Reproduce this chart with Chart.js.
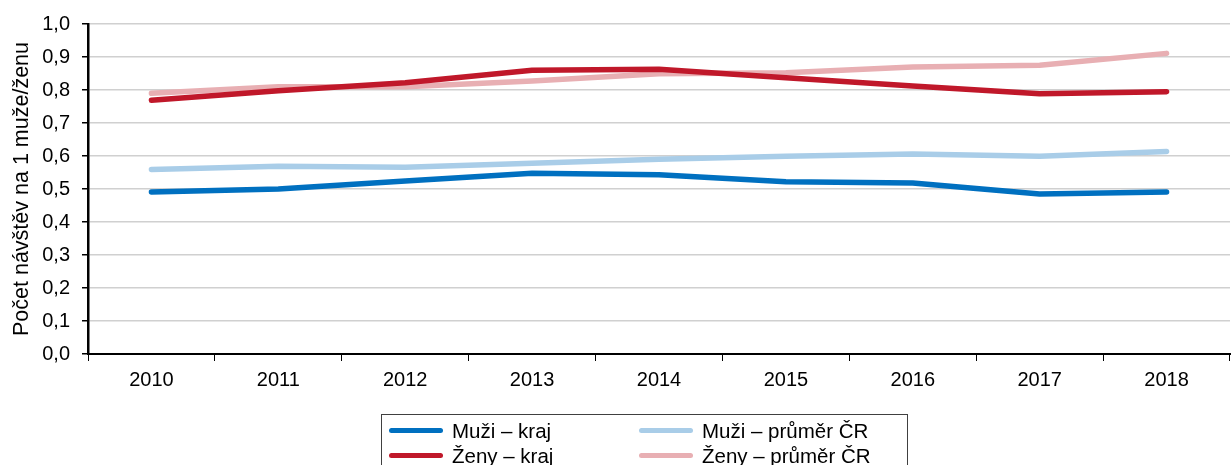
<!DOCTYPE html>
<html><head><meta charset="utf-8">
<script src="https://cdn.jsdelivr.net/npm/chart.js@4/dist/chart.umd.min.js"></script>
<style>
html,body{margin:0;padding:0;background:#fff;}
#wrap{position:relative;width:1231px;height:465px;overflow:hidden;font-family:"Liberation Sans",Arial,sans-serif;}
#c{position:absolute;left:0;top:0;}
#legend{position:absolute;left:381px;top:414px;width:527px;height:62px;border:1px solid #404040;box-sizing:border-box;}
.li{position:absolute;height:25px;line-height:25px;font-size:20.5px;color:#000;white-space:nowrap;}
.li span.sw{position:absolute;left:0;top:10px;width:54px;height:5px;border-radius:3px;}
.li span.t{position:absolute;left:63px;top:0;}
</style></head>
<body><div id="wrap"><canvas id="c" width="1231" height="465"></canvas><div id="legend"></div></div>
<script>
const categories = ['2010','2011','2012','2013','2014','2015','2016','2017','2018'];
const muziKraj   = [0.491, 0.500, 0.524, 0.548, 0.543, 0.522, 0.518, 0.485, 0.491];
const muziCR     = [0.559, 0.569, 0.566, 0.578, 0.590, 0.599, 0.606, 0.599, 0.614];
const zenyKraj   = [0.769, 0.798, 0.822, 0.860, 0.863, 0.837, 0.812, 0.789, 0.795];
const zenyCR     = [0.790, 0.810, 0.810, 0.827, 0.849, 0.852, 0.870, 0.875, 0.911];
const seriesNames = ['Muži – kraj','Muži – průměr ČR','Ženy – kraj','Ženy – průměr ČR'];
const seriesColors = ['#0070C0','#A9CDE8','#C0182A','#E8AFB3'];
const yTitle = 'Počet návštěv na 1 muže/ženu';

const values = [muziKraj, muziCR, zenyKraj, zenyCR];
const drawOrder = [1,3,0,2];
const datasets = values.map((v,i)=>({
  label: seriesNames[i], data: v, borderColor: seriesColors[i], backgroundColor: seriesColors[i],
  borderWidth: 5.5, pointRadius: 0, tension: 0, borderCapStyle: 'round', borderJoinStyle: 'round',
  order: drawOrder[i]
}));

const font = {family: '"Liberation Sans", Arial, sans-serif', size: 20};
new Chart(document.getElementById('c'), {
  type: 'line',
  data: {labels: categories, datasets},
  options: {
    responsive: false, animation: false,
    layout: {padding: {left: 9, right: 1, top: 22, bottom: 0}},
    plugins: {legend: {display: false}, tooltip: {enabled: false}},
    scales: {
      x: {
        offset: true,
        grid: {offset: true, drawOnChartArea: false, color: '#000', tickColor: '#000', tickLength: 7, lineWidth: 1},
        border: {color: '#000', width: 2},
        ticks: {font, color: '#000', padding: 7, maxRotation: 0},
        afterFit: s => { s.height = 111; }
      },
      y: {
        min: 0, max: 1,
        ticks: {stepSize: 0.1, font, color: '#000', padding: 12,
          callback: v => v.toFixed(1).replace('.', ',')},
        grid: {color: '#d0d0d0', lineWidth: 1.5, tickColor: '#000', tickLength: 6},
        border: {color: '#000', width: 2.5},
        title: {display: true, text: yTitle, font: {family: font.family, size: 21.5}, color: '#000', padding: {top: 0, bottom: 0}},
        afterFit: s => { s.width = 79; }
      }
    }
  }
});

const lg = document.getElementById('legend');
const pos = [[7,3],[257,3],[7,28],[257,28]];
seriesNames.forEach((n,i)=>{
  const d = document.createElement('div');
  d.className = 'li';
  d.style.left = pos[i][0] + 'px'; d.style.top = pos[i][1] + 'px';
  d.innerHTML = '<span class="sw" style="background:' + seriesColors[i] + '"></span><span class="t">' + n + '</span>';
  lg.appendChild(d);
});
</script></body></html>
